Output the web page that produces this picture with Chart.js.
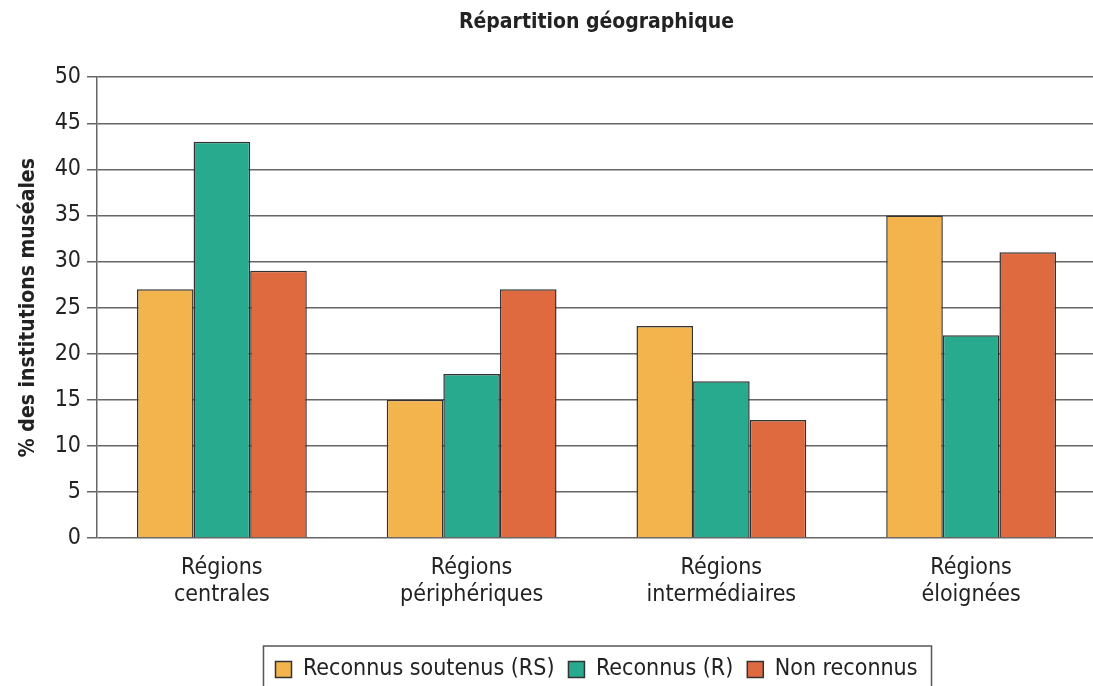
<!DOCTYPE html>
<html>
<head>
<meta charset="utf-8">
<script src="https://cdn.jsdelivr.net/npm/chart.js@4.4.1/dist/chart.umd.min.js"></script>
<style>
    html, body { margin: 0; padding: 0; background: #fff; overflow: hidden; }
    #wrap { position: relative; width: 1100px; height: 686px; }
</style>
</head>
<body>
<div id="wrap"><canvas id="geoChart"></canvas></div>
<script>
const categories = [['Régions', 'centrales'], ['Régions', 'périphériques'], ['Régions', 'intermédiaires'], ['Régions', 'éloignées']];
const seriesNames = ['Reconnus soutenus (RS)', 'Reconnus (R)', 'Non reconnus'];
const reconnusSoutenus = [27, 15, 23, 35];
const reconnus = [43, 17.8, 17, 22];
const nonReconnus = [29, 27, 12.8, 31];
const yTicks = [0, 5, 10, 15, 20, 25, 30, 35, 40, 45, 50];

const palette = { yellow: '#f4b44d', teal: '#28aa8f', red: '#df6a40', edge: '#333', grid: '#666', text: '#222' };
const fontFamily = "'Liberation Sans Narrow', 'DejaVu Sans Condensed', 'Liberation Sans', sans-serif";

// frame around the legend items, like the boxed key in the original
const legendFrame = {
    id: 'legendFrame',
    afterDraw(chart) {
        const boxes = chart.legend.legendHitBoxes;
        if (!boxes || !boxes.length) {
            return;
        }
        const first = boxes[0];
        const last = boxes[boxes.length - 1];
        const ctx = chart.ctx;
        ctx.save();
        ctx.strokeStyle = '#555';
        ctx.lineWidth = 1.5;
        ctx.strokeRect(first.left - 12, first.top - 12, last.left + last.width - first.left + 26, first.height + 40);
        ctx.restore();
    }
};

const bar = (label, data, color) => ({
    label,
    data,
    backgroundColor: color,
    borderColor: palette.edge,
    borderWidth: 1.5,
    categoryPercentage: 0.68,
    barPercentage: 1.0
});

new Chart(document.getElementById('geoChart'), {
    type: 'bar',
    data: {
        labels: categories,
        datasets: [
            bar(seriesNames[0], reconnusSoutenus, palette.yellow),
            bar(seriesNames[1], reconnus, palette.teal),
            bar(seriesNames[2], nonReconnus, palette.red)
        ]
    },
    options: {
        responsive: true,
        maintainAspectRatio: false,
        animation: false,
        layout: { padding: { left: 0, right: 4, top: 0, bottom: -5 } },
        plugins: {
            title: {
                display: true,
                text: 'Répartition géographique',
                fullSize: false,
                color: palette.text,
                font: { family: fontFamily, size: 21, weight: 'bold' },
                padding: { top: 10, bottom: 42 }
            },
            legend: {
                position: 'bottom',
                fullSize: false,
                labels: {
                    color: palette.text,
                    font: { family: fontFamily, size: 23 },
                    boxWidth: 16,
                    boxHeight: 16,
                    padding: 14
                }
            },
            tooltip: { enabled: false }
        },
        scales: {
            x: {
                grid: { display: false },
                border: { display: false },
                ticks: { color: palette.text, font: { family: fontFamily, size: 23, lineHeight: 1.2 }, padding: 8, maxRotation: 0 },
                afterFit: (scale) => { scale.height = 106; }
            },
            y: {
                min: 0,
                max: 50,
                afterBuildTicks: (scale) => { scale.ticks = yTicks.map((value) => ({ value })); },
                grid: { color: palette.grid, lineWidth: 1.5, tickLength: 10, drawTicks: true },
                border: { display: true, color: palette.grid, width: 1.5 },
                ticks: { color: palette.text, font: { family: fontFamily, size: 23 }, padding: 6 },
                title: {
                    display: true,
                    text: '% des institutions muséales',
                    color: palette.text,
                    font: { family: fontFamily, size: 21, weight: 'bold' },
                    padding: { top: 16, bottom: 8 }
                },
                afterFit: (scale) => { scale.width = 97; }
            }
        }
    },
    plugins: [legendFrame]
});
</script>
</body>
</html>
